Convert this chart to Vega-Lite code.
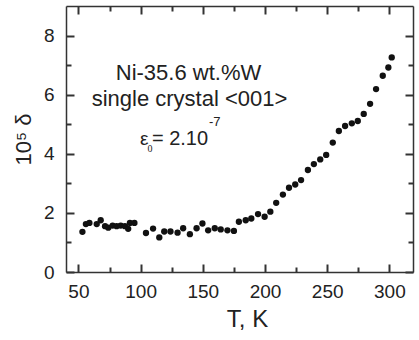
{
  "$schema": "https://vega.github.io/schema/vega-lite/v6.json",
  "autosize": {"type": "none"},
  "padding": {"left": 66, "top": 6, "right": 6, "bottom": 68},
  "width": 347,
  "height": 266,
  "background": "white",
  "config": {
    "view": {"stroke": null},
    "font": "Liberation Sans",
    "axis": {"grid": false, "domainColor": "#333", "domainWidth": 1.5, "tickWidth": 2, "tickColor": "#333", "labelColor": "#222", "titleColor": "#222", "labelFont": "Liberation Sans", "titleFont": "Liberation Sans", "labelFontSize": 19, "titleFontSize": 24, "titleFontWeight": "normal"}
  },
  "datasets": {
    "pts": [
      {"T": 53.2, "v": 1.36}, {"T": 56.0, "v": 1.62}, {"T": 58.8, "v": 1.66}, {"T": 64.7, "v": 1.62},
      {"T": 67.9, "v": 1.75}, {"T": 71.4, "v": 1.55}, {"T": 74.0, "v": 1.50}, {"T": 77.5, "v": 1.57},
      {"T": 80.7, "v": 1.55}, {"T": 84.0, "v": 1.57}, {"T": 87.4, "v": 1.55}, {"T": 90.0, "v": 1.46},
      {"T": 91.4, "v": 1.66}, {"T": 95.0, "v": 1.66},
      {"T": 104.3, "v": 1.32}, {"T": 110.0, "v": 1.47}, {"T": 115.0, "v": 1.17}, {"T": 119.0, "v": 1.37},
      {"T": 124.0, "v": 1.37}, {"T": 129.7, "v": 1.33}, {"T": 134.2, "v": 1.48}, {"T": 139.6, "v": 1.28},
      {"T": 145.0, "v": 1.48}, {"T": 149.7, "v": 1.64}, {"T": 154.3, "v": 1.41}, {"T": 159.6, "v": 1.48},
      {"T": 164.4, "v": 1.44}, {"T": 169.8, "v": 1.41}, {"T": 175.0, "v": 1.39},
      {"T": 179.0, "v": 1.70}, {"T": 184.5, "v": 1.75}, {"T": 189.0, "v": 1.81}, {"T": 194.4, "v": 1.96},
      {"T": 199.7, "v": 1.87}, {"T": 204.3, "v": 2.04}, {"T": 209.0, "v": 2.34}, {"T": 214.4, "v": 2.62},
      {"T": 219.3, "v": 2.85}, {"T": 224.3, "v": 2.96}, {"T": 229.0, "v": 3.11}, {"T": 234.5, "v": 3.45},
      {"T": 239.3, "v": 3.65}, {"T": 244.4, "v": 3.81}, {"T": 249.2, "v": 3.96}, {"T": 254.5, "v": 4.38},
      {"T": 259.4, "v": 4.77}, {"T": 264.4, "v": 4.94}, {"T": 269.8, "v": 5.03}, {"T": 274.6, "v": 5.11},
      {"T": 279.4, "v": 5.35}, {"T": 284.5, "v": 5.69}, {"T": 289.3, "v": 6.19}, {"T": 294.7, "v": 6.64},
      {"T": 299.2, "v": 6.92}, {"T": 301.9, "v": 7.26}
    ]
  },
  "layer": [
    {
      "data": {"name": "pts"},
      "mark": {"type": "point", "filled": true, "shape": "circle", "size": 40, "color": "#111", "opacity": 1},
      "encoding": {
        "x": {"field": "T", "type": "quantitative", "scale": {"domain": [40, 319], "nice": false, "zero": false},
          "axis": {"orient": "bottom", "title": "T, K", "titleX": 181, "titlePadding": 6,
            "values": [50, 100, 150, 200, 250, 300],
            "tickSize": -8, "labelPadding": 18}},
        "y": {"field": "v", "type": "quantitative", "scale": {"domain": [0, 9], "nice": false, "zero": false},
          "axis": {"orient": "left", "title": "10⁵ δ", "titleFontSize": 22, "titlePadding": 8,
            "values": [0, 2, 4, 6, 8],
            "tickSize": -8, "labelPadding": 20}}
      }
    },
    {
      "data": {"name": "pts"},
      "mark": {"type": "point", "opacity": 0},
      "encoding": {
        "x": {"field": "T", "type": "quantitative", "scale": {"domain": [40, 319], "nice": false, "zero": false},
          "axis": {"orient": "top", "title": null, "labels": false,
            "values": [50, 100, 150, 200, 250, 300], "tickSize": -8}},
        "y": {"field": "v", "type": "quantitative", "scale": {"domain": [0, 9], "nice": false, "zero": false},
          "axis": {"orient": "right", "title": null, "labels": false,
            "values": [0, 2, 4, 6, 8], "tickSize": -8}}
      }
    },
    {
      "data": {"name": "pts"},
      "mark": {"type": "point", "opacity": 0},
      "encoding": {
        "x": {"field": "T", "type": "quantitative", "scale": {"domain": [40, 319], "nice": false, "zero": false},
          "axis": {"orient": "bottom", "title": null, "labels": false, "domain": false,
            "values": [75, 125, 175, 225, 275], "tickSize": -5}},
        "y": {"field": "v", "type": "quantitative", "scale": {"domain": [0, 9], "nice": false, "zero": false},
          "axis": {"orient": "left", "title": null, "labels": false, "domain": false,
            "values": [1, 3, 5, 7], "tickSize": -5}}
      }
    },
    {
      "data": {"name": "pts"},
      "mark": {"type": "point", "opacity": 0},
      "encoding": {
        "x": {"field": "T", "type": "quantitative", "scale": {"domain": [40, 319], "nice": false, "zero": false},
          "axis": {"orient": "top", "title": null, "labels": false, "domain": false,
            "values": [75, 125, 175, 225, 275], "tickSize": -5}},
        "y": {"field": "v", "type": "quantitative", "scale": {"domain": [0, 9], "nice": false, "zero": false},
          "axis": {"orient": "right", "title": null, "labels": false, "domain": false,
            "values": [1, 3, 5, 7], "tickSize": -5}}
      }
    },
    {
      "data": {"values": [{"T": 138.5, "v": 6.51, "label": "Ni-35.6 wt.%W"}, {"T": 139.3, "v": 5.61, "label": "single crystal <001>"}]},
      "mark": {"type": "text", "fontSize": 22, "font": "Liberation Sans", "color": "#222", "align": "center", "baseline": "alphabetic"},
      "encoding": {
        "x": {"field": "T", "type": "quantitative", "axis": null},
        "y": {"field": "v", "type": "quantitative", "axis": null},
        "text": {"field": "label"}
      }
    },
    {
      "data": {"values": [{"T": 99.5, "v": 4.31, "label": "ε"}]},
      "mark": {"type": "text", "fontSize": 19, "font": "Liberation Sans", "color": "#222", "align": "left", "baseline": "alphabetic"},
      "encoding": {
        "x": {"field": "T", "type": "quantitative", "axis": null},
        "y": {"field": "v", "type": "quantitative", "axis": null},
        "text": {"field": "label"}
      }
    },
    {
      "data": {"values": [{"T": 105.6, "v": 4.05, "label": "0"}]},
      "mark": {"type": "text", "fontSize": 10, "font": "Liberation Serif", "color": "#222", "align": "left", "baseline": "alphabetic"},
      "encoding": {
        "x": {"field": "T", "type": "quantitative", "axis": null},
        "y": {"field": "v", "type": "quantitative", "axis": null},
        "text": {"field": "label"}
      }
    },
    {
      "data": {"values": [{"T": 109.1, "v": 4.31, "label": "= 2.10"}]},
      "mark": {"type": "text", "fontSize": 20, "font": "Liberation Sans", "color": "#222", "align": "left", "baseline": "alphabetic"},
      "encoding": {
        "x": {"field": "T", "type": "quantitative", "axis": null},
        "y": {"field": "v", "type": "quantitative", "axis": null},
        "text": {"field": "label"}
      }
    },
    {
      "data": {"values": [{"T": 155.0, "v": 4.95, "label": "-7"}]},
      "mark": {"type": "text", "fontSize": 13, "font": "Liberation Sans", "color": "#222", "align": "left", "baseline": "alphabetic"},
      "encoding": {
        "x": {"field": "T", "type": "quantitative", "axis": null},
        "y": {"field": "v", "type": "quantitative", "axis": null},
        "text": {"field": "label"}
      }
    }
  ],
  "resolve": {"axis": {"x": "independent", "y": "independent"}}
}
